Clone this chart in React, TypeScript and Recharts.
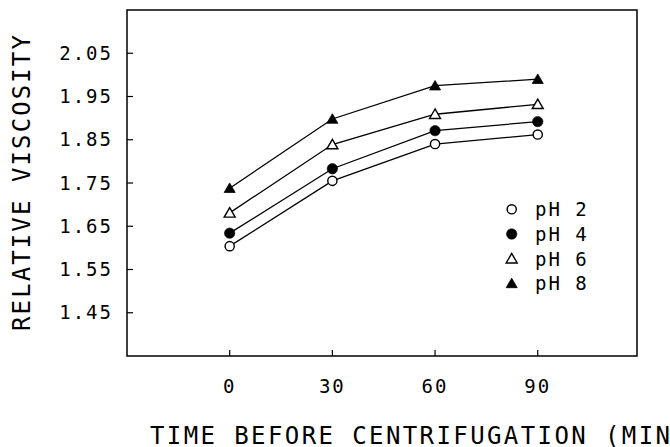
import React from 'react';
import { LineChart, Line, XAxis, YAxis, ReferenceArea } from 'recharts';

const times = [0, 30, 60, 90];
const pH2 = [1.604, 1.755, 1.840, 1.862];
const pH4 = [1.634, 1.783, 1.871, 1.892];
const pH6 = [1.681, 1.839, 1.909, 1.932];
const pH8 = [1.738, 1.898, 1.975, 1.990];
const yTicks = [1.45, 1.55, 1.65, 1.75, 1.85, 1.95, 2.05];
const seriesNames = ['pH 2', 'pH 4', 'pH 6', 'pH 8'];

const data = times.map((t, i) => ({ time: t, pH2: pH2[i], pH4: pH4[i], pH6: pH6[i], pH8: pH8[i] }));

const FONT = '"DejaVu Sans Mono", "Liberation Mono", monospace';

type Kind = 'circleOpen' | 'circleFilled' | 'triOpen' | 'triFilled';
const kinds: Kind[] = ['circleOpen', 'circleFilled', 'triOpen', 'triFilled'];

function Marker({ cx, cy, kind }: { cx: number; cy: number; kind: Kind }) {
  if (cx == null || cy == null) return null;
  if (kind === 'circleOpen') return <circle cx={cx} cy={cy} r={4.6} fill="#fff" stroke="#000" strokeWidth={1.4} />;
  if (kind === 'circleFilled') return <circle cx={cx} cy={cy} r={5.2} fill="#000" stroke="#000" strokeWidth={0.6} />;
  const h = 9.5;
  const w = 11;
  const pts = `${cx},${cy - h * 0.55} ${cx - w / 2},${cy + h * 0.45} ${cx + w / 2},${cy + h * 0.45}`;
  if (kind === 'triOpen') return <polygon points={pts} fill="#fff" stroke="#000" strokeWidth={1.4} />;
  return <polygon points={pts} fill="#000" stroke="#000" strokeWidth={0.8} />;
}

const makeDot = (kind: Kind) => (props: any) => <Marker key={`${kind}-${props.index}`} cx={props.cx} cy={props.cy} kind={kind} />;

function LegendBox() {
  return (
    <svg width={110} height={100} style={{ display: 'block', position: 'absolute', left: 500, top: 195 }}>
      {seriesNames.map((n, i) => (
        <g key={n}>
          <Marker cx={11.7} cy={14.3 + 24.7 * i} kind={kinds[i]} />
          <text x={35} y={14.3 + 24.7 * i} dominantBaseline="central" fontFamily={FONT} fontSize={19} letterSpacing={2} fill="#000">{n}</text>
        </g>
      ))}
    </svg>
  );
}

const tickStyle = { fill: '#000', fontSize: 19, fontFamily: FONT, letterSpacing: 2 };

export default function App() {
  return (
    <div style={{ position: 'absolute', left: 0, top: 0, width: 670, height: 447, background: '#fff', overflow: 'hidden' }}>
      <LineChart width={670} height={447} data={data} margin={{ top: 10, right: 33, left: 0, bottom: 0 }}>
        <XAxis
          dataKey="time"
          type="number"
          domain={[-30, 119]}
          ticks={times}
          allowDataOverflow
          height={91}
          axisLine={false}
          tickSize={-6}
          tickMargin={30}
          tickLine={{ stroke: '#000', strokeWidth: 1.2 }}
          tick={tickStyle}
          label={{
            content: () => (
              <text x={150} y={444} fontFamily={FONT} fontSize={24} letterSpacing={2.4} fill="#000">TIME BEFORE CENTRIFUGATION (MIN)</text>
            ),
          }}
        />
        <YAxis
          type="number"
          domain={[1.35, 2.15]}
          ticks={yTicks}
          allowDataOverflow
          width={127}
          axisLine={false}
          tickSize={-6}
          tickMargin={20}
          tickLine={{ stroke: '#000', strokeWidth: 1.2 }}
          tick={tickStyle}
          tickFormatter={(v: number) => v.toFixed(2)}
          label={{
            content: () => (
              <text x={22} y={182} transform="rotate(-90 22 182)" textAnchor="middle" dominantBaseline="central" fontFamily={FONT} fontSize={24} letterSpacing={2.1} fill="#000">RELATIVE VISCOSITY</text>
            ),
          }}
        />
        <ReferenceArea x1={-30} x2={119} y1={1.35} y2={2.15} fill="none" stroke="#000" strokeWidth={1.5} ifOverflow="visible" />
        <Line dataKey="pH2" stroke="#000" strokeWidth={1.3} dot={makeDot('circleOpen')} isAnimationActive={false} />
        <Line dataKey="pH4" stroke="#000" strokeWidth={1.3} dot={makeDot('circleFilled')} isAnimationActive={false} />
        <Line dataKey="pH6" stroke="#000" strokeWidth={1.3} dot={makeDot('triOpen')} isAnimationActive={false} />
        <Line dataKey="pH8" stroke="#000" strokeWidth={1.3} dot={makeDot('triFilled')} isAnimationActive={false} />
      </LineChart>
      <LegendBox />
    </div>
  );
}
